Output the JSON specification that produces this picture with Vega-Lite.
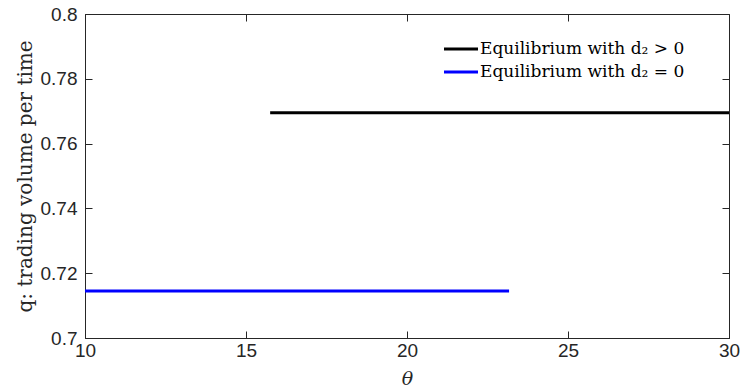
{
  "$schema": "https://vega.github.io/schema/vega-lite/v6.json",
  "width": 644,
  "height": 324,
  "autosize": {"type": "none"},
  "padding": {"left": 85, "top": 14, "right": 11, "bottom": 52},
  "background": "white",
  "data": {"values": [
    {"series": "Equilibrium with d₂ > 0", "theta": 15.75, "q": 0.7695},
    {"series": "Equilibrium with d₂ > 0", "theta": 30, "q": 0.7695},
    {"series": "Equilibrium with d₂ = 0", "theta": 10, "q": 0.7145},
    {"series": "Equilibrium with d₂ = 0", "theta": 23.17, "q": 0.7145}
  ]},
  "config": {
    "view": {"stroke": "#262626", "strokeWidth": 1},
    "axis": {
      "grid": false,
      "domainColor": "#262626",
      "domainWidth": 1,
      "tickColor": "#262626",
      "tickSize": -7,
      "labelFont": "Liberation Sans",
      "labelFontSize": 19,
      "labelColor": "#262626",
      "titleFont": "DejaVu Serif",
      "titleFontWeight": "normal",
      "titleColor": "#262626"
    }
  },
  "layer": [
    {
      "mark": {"type": "line", "strokeWidth": 3, "clip": true},
      "encoding": {
        "x": {"field": "theta", "type": "quantitative",
          "scale": {"domain": [10, 30], "nice": false},
          "axis": {"title": "θ", "values": [10, 15, 20, 25, 30], "labelPadding": 10, "titleFontSize": 19, "titleFontStyle": "italic", "titlePadding": 9, "labelFlush": false}},
        "y": {"field": "q", "type": "quantitative",
          "scale": {"domain": [0.7, 0.8], "nice": false, "zero": false},
          "axis": {"title": "q: trading volume per time", "values": [0.7, 0.72, 0.74, 0.76, 0.78, 0.8], "format": "~g", "labelPadding": 15, "titleFontSize": 20, "titlePadding": 5}},
        "color": {"field": "series", "type": "nominal",
          "scale": {"domain": ["Equilibrium with d₂ > 0", "Equilibrium with d₂ = 0"], "range": ["#000000", "#0000ff"]},
          "legend": {"title": null, "orient": "none", "legendX": 366, "legendY": 25,
            "symbolType": "M-2,0H2", "symbolStrokeWidth": 3, "symbolSize": 289,
            "labelFont": "DejaVu Serif", "labelFontSize": 17, "labelColor": "#000000", "labelOffset": 9, "labelLimit": 400, "rowPadding": 5}}
      }
    },
    {
      "mark": {"type": "line", "opacity": 0},
      "encoding": {
        "x": {"field": "theta", "type": "quantitative",
          "scale": {"domain": [10, 30], "nice": false},
          "axis": {"orient": "top", "title": null, "labels": false, "domain": false, "values": [10, 15, 20, 25, 30]}},
        "y": {"field": "q", "type": "quantitative",
          "scale": {"domain": [0.7, 0.8], "nice": false, "zero": false},
          "axis": {"orient": "right", "title": null, "labels": false, "domain": false, "values": [0.7, 0.72, 0.74, 0.76, 0.78, 0.8]}},
        "detail": {"field": "series"}
      }
    }
  ],
  "resolve": {"axis": {"x": "independent", "y": "independent"}}
}
